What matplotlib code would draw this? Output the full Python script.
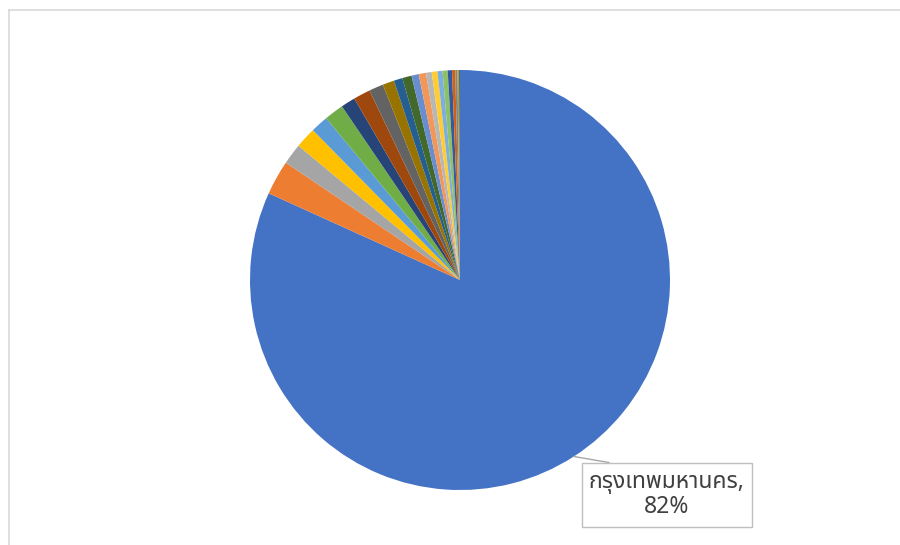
import matplotlib
matplotlib.use("Agg")
import matplotlib.pyplot as plt
from matplotlib import font_manager
from matplotlib.lines import Line2D

# share of each province, percent (only the first one is labelled)
labels = ["กรุงเทพมหานคร"] + [""] * 22
shares = [82.0, 2.67, 1.61, 1.61, 1.36, 1.50, 1.11, 1.31, 1.11, 0.89, 0.67,
          0.72, 0.56, 0.56, 0.44, 0.44, 0.39, 0.39, 0.33, 0.25, 0.17, 0.11, 0.08]
colors = ["#4472C4", "#ED7D31", "#A5A5A5", "#FFC000", "#5B9BD5", "#70AD47",
          "#264478", "#9E480E", "#636363", "#997300", "#255E91", "#43682B",
          "#698ED0", "#F1975A", "#B7B7B7", "#FFCD33", "#7CAFDD", "#8CC168",
          "#335AA1", "#D26012", "#848484", "#CC9A00", "#3275B7"]

installed = {f.name for f in font_manager.fontManager.ttflist}
thai = next((f for f in ["Noto Sans Thai", "Anuphan", "Sarabun", "Bai Jamjuree"]
             if f in installed), "DejaVu Sans")
plt.rcParams['font.family'] = [thai, 'DejaVu Sans']

fig = plt.figure(figsize=(9, 5.45), dpi=100)
# chart-area frame: only the top and left edges are inside the picture
fx, fy = 8.5 / 900, 1 - 9.5 / 545
fig.add_artist(Line2D([fx, 1.0], [fy, fy], transform=fig.transFigure,
                      color="#D9D9D9", lw=1.2))
fig.add_artist(Line2D([fx, fx], [0.0, fy], transform=fig.transFigure,
                      color="#D9D9D9", lw=1.2))

ax = fig.add_axes([250 / 900, 55 / 545, 420 / 900, 420 / 545])
ax.pie(shares, colors=colors, startangle=90, counterclock=False,
       wedgeprops=dict(linewidth=0))
ax.set_xlim(-1, 1)
ax.set_ylim(-1, 1)
ax.set_aspect("equal")

ax.annotate(labels[0] + ",\n" + "82%", xy=(0.54, -0.84), xytext=(0.985, -1.023),
            ha="center", va="center", fontsize=16.5, color="#404040",
            linespacing=1.05,
            bbox=dict(boxstyle="square,pad=0.32", fc="white", ec="#BFBFBF", lw=1),
            arrowprops=dict(arrowstyle="-", color="#A6A6A6", lw=1,
                            relpos=(0.42, 1.0), shrinkA=0, shrinkB=0),
            annotation_clip=False)

fig.savefig("out.png", dpi=100)
